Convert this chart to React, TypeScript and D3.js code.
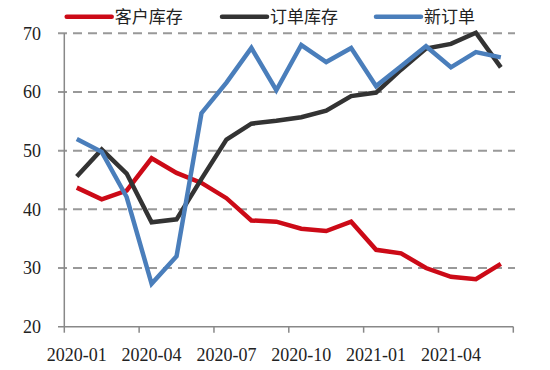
import * as d3 from "d3";

const WIDTH = 550;
const HEIGHT = 370;
const PLOT = { left: 64.3, right: 513.3, top: 33.3, bottom: 326.7 };

const MONTHS = [
  "2020-01", "2020-02", "2020-03", "2020-04", "2020-05", "2020-06",
  "2020-07", "2020-08", "2020-09", "2020-10", "2020-11", "2020-12",
  "2021-01", "2021-02", "2021-03", "2021-04", "2021-05", "2021-06",
];
const CLIENT_STOCK = [43.7, 41.7, 43.2, 48.7, 46.2, 44.5, 41.9, 38.1, 37.9, 36.7, 36.3, 37.9, 33.1, 32.5, 30.0, 28.5, 28.1, 30.7];
const ORDER_STOCK = [45.6, 50.2, 46.1, 37.8, 38.3, 45.2, 51.9, 54.6, 55.1, 55.7, 56.8, 59.3, 59.9, 63.8, 67.4, 68.2, 70.1, 64.2];
const NEW_ORDERS = [52.0, 49.8, 42.1, 27.3, 32.0, 56.4, 61.6, 67.5, 60.3, 68.0, 65.1, 67.5, 61.0, 64.4, 67.8, 64.2, 66.8, 65.9];
const Y_TICKS = [20, 30, 40, 50, 60, 70];
const X_LABELS = ["2020-01", "2020-04", "2020-07", "2020-10", "2021-01", "2021-04"];

const SERIES = [
  { key: "client", label: "客户库存", values: CLIENT_STOCK, color: "#cc0a17", legendX: 66.7 },
  { key: "order", label: "订单库存", values: ORDER_STOCK, color: "#333333", legendX: 222 },
  { key: "new", label: "新订单", values: NEW_ORDERS, color: "#4a7ebb", legendX: 376 },
];

const NUM_FONT = "'Liberation Serif', 'DejaVu Serif', serif";
const CJK_FONT = "'Noto Sans CJK SC', sans-serif";

export default function App() {
  const x = d3.scaleBand<string>().domain(MONTHS).range([PLOT.left, PLOT.right]);
  const y = d3.scaleLinear().domain([20, 70]).range([PLOT.bottom, PLOT.top]);
  const cx = (m: string) => (x(m) ?? 0) + x.bandwidth() / 2;

  const line = d3
    .line<number>()
    .x((_, i) => cx(MONTHS[i]))
    .y((v) => y(v));

  // boundaries every 3 months, including the right end
  const boundaries = d3.range(0, MONTHS.length + 1, 3).map((i) => PLOT.left + i * x.step());

  return (
    <div style={{ position: "absolute", left: 0, top: 0 }}>
      <svg width={WIDTH} height={HEIGHT} viewBox={`0 0 ${WIDTH} ${HEIGHT}`} style={{ background: "#fff", display: "block" }}>
        {Y_TICKS.filter((t) => t > 20).map((t) => (
          <line key={`g-${t}`} x1={58} x2={515} y1={y(t)} y2={y(t)} stroke="#999" strokeWidth={2} strokeDasharray="9 6" />
        ))}

        <line x1={PLOT.left} x2={PLOT.left} y1={y(70)} y2={y(20)} stroke="#888" strokeWidth={1.5} />
        <line x1={58} x2={PLOT.right} y1={y(20)} y2={y(20)} stroke="#888" strokeWidth={1.5} />
        {boundaries.map((bx, i) => (
          <line key={`t-${i}`} x1={bx} x2={bx} y1={y(20)} y2={y(20) + 6} stroke="#888" strokeWidth={1.5} />
        ))}

        {Y_TICKS.map((t) => (
          <text key={`yl-${t}`} x={41} y={y(t)} dy="0.35em" textAnchor="end" fontFamily={NUM_FONT} fontSize={18} fill="#222">
            {t}
          </text>
        ))}
        {X_LABELS.map((m) => (
          <text key={`xl-${m}`} x={cx(m)} y={361} textAnchor="middle" fontFamily={NUM_FONT} fontSize={18} fill="#222">
            {m}
          </text>
        ))}

        {SERIES.map((s) => (
          <path key={s.key} d={line(s.values) || ""} fill="none" stroke={s.color} strokeWidth={4.5} strokeLinejoin="miter" />
        ))}

        {SERIES.map((s) => (
          <g key={`lg-${s.key}`}>
            <line x1={s.legendX} x2={s.legendX + 45} y1={16.7} y2={16.7} stroke={s.color} strokeWidth={4.5} strokeLinecap="round" />
            <text x={s.legendX + 48} y={17} dy="0.35em" fontFamily={CJK_FONT} fontSize={17} fill="#222">
              {s.label}
            </text>
          </g>
        ))}
      </svg>
    </div>
  );
}
